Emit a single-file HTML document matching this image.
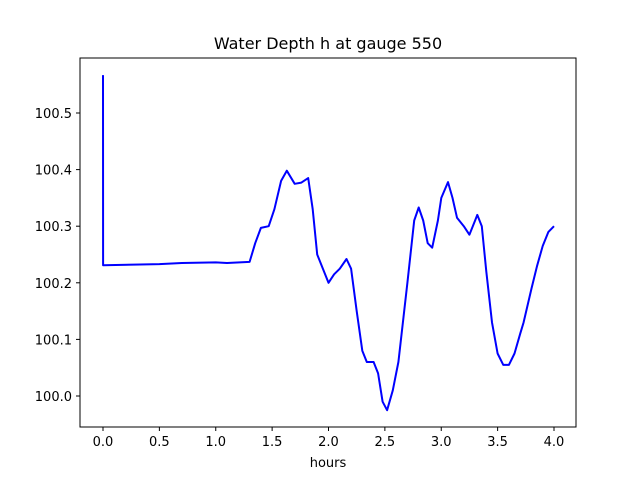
<!DOCTYPE html>
<html><head><meta charset="utf-8"><style>
html,body{margin:0;padding:0;background:#fff;}
svg{display:block;font-family:"DejaVu Sans","Liberation Sans",sans-serif;}
</style></head><body>
<svg id="chart" width="640" height="480">
<rect x="0" y="0" width="640" height="480" fill="#fff"/>
<text x="328" y="49" font-size="16" text-anchor="middle">Water Depth h at gauge 550</text>
<text x="328" y="467" font-size="13" text-anchor="middle">hours</text>
<g id="ticks"></g>
<path id="line" fill="none" stroke="#0000ff" stroke-width="2" stroke-linejoin="round"/>
<rect x="80" y="58" width="496" height="369" fill="none" stroke="#000" stroke-width="1"/>
</svg>
<script>
const hours=[0,0.001,0.5,0.7,1.0,1.1,1.3,1.35,1.4,1.47,1.52,1.58,1.63,1.7,1.76,1.82,1.86,1.9,1.95,2.0,2.05,2.1,2.16,2.2,2.25,2.3,2.34,2.4,2.44,2.48,2.52,2.57,2.62,2.7,2.76,2.8,2.84,2.88,2.92,2.97,3.0,3.06,3.1,3.14,3.2,3.25,3.3,3.32,3.36,3.4,3.45,3.5,3.55,3.6,3.65,3.7,3.73,3.8,3.85,3.9,3.95,4.0];
const depth=[100.567,100.231,100.233,100.235,100.236,100.235,100.237,100.27,100.297,100.30,100.33,100.38,100.398,100.375,100.377,100.385,100.33,100.25,100.225,100.20,100.215,100.225,100.242,100.225,100.15,100.08,100.06,100.06,100.04,99.99,99.975,100.01,100.06,100.2,100.31,100.333,100.31,100.27,100.262,100.31,100.35,100.378,100.35,100.315,100.30,100.285,100.31,100.32,100.30,100.22,100.13,100.075,100.055,100.055,100.075,100.11,100.13,100.19,100.23,100.265,100.29,100.30];
const xTicks=["0.0","0.5","1.0","1.5","2.0","2.5","3.0","3.5","4.0"];
const yTicks=["100.0","100.1","100.2","100.3","100.4","100.5"];
const X=v=>103+(v-0)*112.75;
const Y=v=>396-(v-100)*566;
const NS="http://www.w3.org/2000/svg";
const g=document.getElementById('ticks');
function mk(tag,attrs){const e=document.createElementNS(NS,tag);for(const k in attrs)e.setAttribute(k,attrs[k]);return e;}
xTicks.forEach(t=>{const x=X(parseFloat(t));
 const l=mk('line',{x1:x,x2:x,y1:427,y2:431,stroke:'#000'});
 
 
 g.appendChild(l);
 const s=mk('text',{x:x,y:446,'font-size':13,'text-anchor':'middle'});s.textContent=t;
 
 
 g.appendChild(s);});
yTicks.forEach(t=>{const y=Y(parseFloat(t));
 const l=mk('line',{x1:76,x2:80,y1:y,y2:y,stroke:'#000'});
 
 
 g.appendChild(l);
 const s=mk('text',{x:72,y:y+5,'font-size':13,'text-anchor':'end'});s.textContent=t;
 
 
 g.appendChild(s);});
document.getElementById('line').setAttribute('d',hours.map((h,i)=>(i?'L':'M')+X(h).toFixed(1)+' '+Y(depth[i]).toFixed(1)).join(' '));
</script>
</body></html>
